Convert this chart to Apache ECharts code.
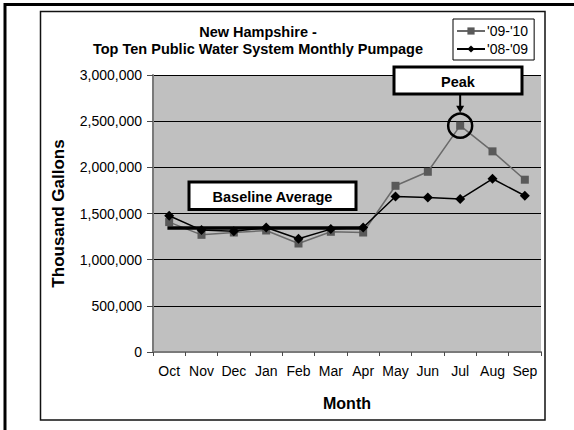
<!DOCTYPE html>
<html>
<head>
<meta charset="utf-8">
<script src="https://cdn.jsdelivr.net/npm/echarts@6/dist/echarts.min.js"></script>
<style>
  html, body { margin: 0; padding: 0; background: #fff; }
  #chart { width: 574px; height: 430px; }
</style>
</head>
<body>
<div id="chart"></div>
<script>
// Monthly pumpage of the ten largest public water systems (thousand gallons)
var months = ['Oct', 'Nov', 'Dec', 'Jan', 'Feb', 'Mar', 'Apr', 'May', 'Jun', 'Jul', 'Aug', 'Sep'];
var season0910 = [1407000, 1269000, 1294000, 1316000, 1175000, 1302000, 1294000, 1800000, 1952000, 2451000, 2173000, 1866000];
var season0809 = [1475000, 1320000, 1309000, 1348000, 1226000, 1331000, 1348000, 1685000, 1674000, 1656000, 1876000, 1692000];
var seriesNames = ["'09-'10", "'08-'09"];
var yTicks = [0, 500000, 1000000, 1500000, 2000000, 2500000, 3000000];
var baselineAverage = 1350000;
var baselineSpan = ['Oct', 'Apr'];
var peakMonth = 'Jul';

var FONT = '"Liberation Sans", Arial, sans-serif';

var chart = echarts.init(document.getElementById('chart'), null, { renderer: 'svg' });

function fmt(v) {
  return String(v).replace(/\B(?=(\d{3})+(?!\d))/g, ',');
}

var peakIndex = months.indexOf(peakMonth);

chart.setOption({
  animation: false,
  backgroundColor: '#ffffff',
  textStyle: { fontFamily: FONT },
  grid: {
    left: 153, top: 75, width: 388, height: 277,
    show: true, backgroundColor: '#c0c0c0', borderWidth: 0
  },
  legend: {
    orient: 'vertical',
    left: 453, top: 19,
    padding: [5, 6, 4, 3],
    itemGap: 4,
    itemWidth: 28, itemHeight: 9,
    backgroundColor: '#ffffff',
    borderColor: '#000000', borderWidth: 1,
    textStyle: { fontFamily: FONT, fontSize: 14, color: '#000', padding: [0, 0, 0, -3] },
    data: seriesNames
  },
  xAxis: {
    type: 'category',
    data: months,
    boundaryGap: true,
    name: 'Month',
    nameLocation: 'middle',
    nameGap: 43,
    nameTextStyle: { fontFamily: FONT, fontSize: 16, fontWeight: 'bold', color: '#000' },
    axisLine: { lineStyle: { color: '#7a7a7a', width: 2 } },
    axisTick: { show: true, length: 4, interval: 0, lineStyle: { color: '#4a4a4a', width: 1 } },
    axisLabel: { fontFamily: FONT, fontSize: 14, color: '#000', margin: 12, interval: 0 },
    splitLine: { show: false }
  },
  yAxis: {
    type: 'value',
    min: yTicks[0], max: yTicks[yTicks.length - 1], interval: yTicks[1] - yTicks[0],
    name: 'Thousand Gallons',
    nameLocation: 'middle',
    nameGap: 86,
    nameTextStyle: { fontFamily: FONT, fontSize: 17, fontWeight: 'bold', color: '#000' },
    axisLine: { show: true, lineStyle: { color: '#7a7a7a', width: 2 } },
    axisTick: { show: true, length: 6, lineStyle: { color: '#4a4a4a', width: 1 } },
    axisLabel: { fontFamily: FONT, fontSize: 14, color: '#000', margin: 11, formatter: fmt },
    splitLine: { show: true, lineStyle: { color: '#000', width: 1 } }
  },
  series: [
    {
      name: seriesNames[0],
      type: 'line',
      data: season0910,
      symbol: 'rect',
      symbolSize: 8,
      color: '#5a5a5a',
      lineStyle: { color: '#6a6a6a', width: 1.5 },
      itemStyle: { color: '#5a5a5a' },
      z: 3,
      markPoint: {
        symbol: 'circle',
        symbolSize: 24,
        silent: true,
        label: { show: false },
        itemStyle: { color: 'rgba(0,0,0,0)', borderColor: '#000', borderWidth: 2.5 },
        data: [{ coord: [peakIndex, season0910[peakIndex]] }]
      }
    },
    {
      name: seriesNames[1],
      type: 'line',
      data: season0809,
      symbol: 'diamond',
      symbolSize: 10,
      color: '#000',
      lineStyle: { color: '#000', width: 1.5 },
      itemStyle: { color: '#000' },
      z: 4,
      markLine: {
        silent: true,
        symbol: 'none',
        label: { show: false },
        lineStyle: { color: '#000', width: 3.5, type: 'solid', cap: 'square' },
        data: [[{ coord: [baselineSpan[0], baselineAverage] }, { coord: [baselineSpan[1], baselineAverage] }]]
      }
    }
  ]
});

// Callout boxes, the arrow to the peak, and the frame
var peakPx = chart.convertToPixel({ seriesIndex: 0 }, [peakIndex, season0910[peakIndex]]);
var peakBox = { x: 394, y: 67, w: 128, h: 27 };
var baseBox = { x: 189, y: 182, w: 167, h: 27.5 };

chart.setOption({
  graphic: [
    {
      type: 'rect', silent: true, z: 0,
      shape: { x: 5, y: 4.5, width: 620, height: 480 },
      style: { fill: 'none', stroke: '#000', lineWidth: 3 }
    },
    {
      type: 'rect', silent: true, z: 0,
      shape: { x: 40.5, y: 11.5, width: 504.5, height: 408.5 },
      style: { fill: 'none', stroke: '#111', lineWidth: 1.5 }
    },
    {
      type: 'text', silent: true, z: 10,
      style: {
        x: 258, y: 40, text: 'New Hampshire -\nTop Ten Public Water System Monthly Pumpage',
        textAlign: 'center', textVerticalAlign: 'middle',
        font: 'bold 14.5px ' + FONT, lineHeight: 17, fill: '#000'
      }
    },
    {
      type: 'rect', silent: true, z: 20,
      shape: { x: baseBox.x, y: baseBox.y, width: baseBox.w, height: baseBox.h },
      style: { fill: '#fff', stroke: '#000', lineWidth: 3 }
    },
    {
      type: 'text', silent: true, z: 21,
      style: {
        x: baseBox.x + baseBox.w / 2, y: baseBox.y + baseBox.h / 2 + 1, text: 'Baseline Average',
        textAlign: 'center', textVerticalAlign: 'middle',
        font: 'bold 14.5px ' + FONT, fill: '#000'
      }
    },
    {
      type: 'rect', silent: true, z: 20,
      shape: { x: peakBox.x, y: peakBox.y, width: peakBox.w, height: peakBox.h },
      style: { fill: '#fff', stroke: '#000', lineWidth: 3 }
    },
    {
      type: 'text', silent: true, z: 21,
      style: {
        x: peakBox.x + peakBox.w / 2, y: peakBox.y + peakBox.h / 2 + 1, text: 'Peak',
        textAlign: 'center', textVerticalAlign: 'middle',
        font: 'bold 14.5px ' + FONT, fill: '#000'
      }
    },
    {
      type: 'line', silent: true, z: 20,
      shape: { x1: peakPx[0], y1: peakBox.y + peakBox.h + 1, x2: peakPx[0], y2: peakPx[1] - 18 },
      style: { stroke: '#000', lineWidth: 2 }
    },
    {
      type: 'polygon', silent: true, z: 20,
      shape: { points: [[peakPx[0] - 4, peakPx[1] - 20], [peakPx[0] + 4, peakPx[1] - 20], [peakPx[0], peakPx[1] - 13]] },
      style: { fill: '#000' }
    }
  ]
});
</script>
</body>
</html>
